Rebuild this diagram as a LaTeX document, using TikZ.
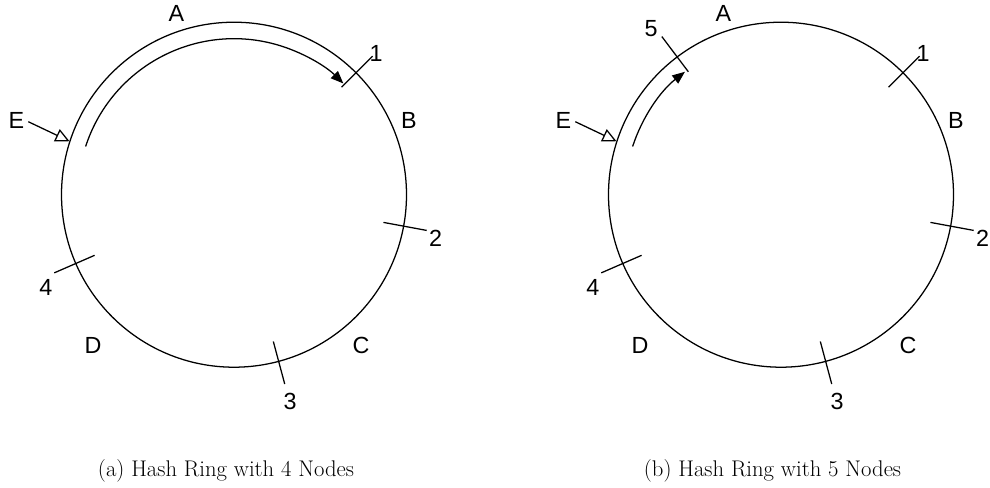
\documentclass[tikz,border=0pt]{standalone}
\usepackage{fontspec}
\newfontfamily\lblfont{Liberation Sans}
\usetikzlibrary{arrows.meta,calc}
\begin{document}
\begin{tikzpicture}[x=0.75pt,y=0.75pt,
  ring/.style={line width=0.95pt},
  tickline/.style={line width=0.95pt},
  lbl/.style={font=\lblfont\fontsize{17.5}{20}\selectfont, inner sep=0pt},
  captext/.style={font=\fontsize{17}{20}\selectfont, inner sep=0pt},
  entry/.style={line width=0.95pt, -{Triangle[open,length=10.5pt,width=10pt,line width=0.95pt]}},
  walk/.style={line width=0.95pt, -{Triangle[length=9.5pt,width=7.5pt]}}]
\useasboundingbox (0,0) rectangle (990,-487);

\foreach \p/\cx in {L/234, R/781} {
  \coordinate (\p-c) at (\cx,-194.7);
  \draw[ring] (\p-c) circle[radius=172.5];
  % ticks
  \foreach \t/\a in {1/45, 2/-10.5, 3/-75, 4/203.5} {
    \coordinate (\p-t\t i) at ($(\p-c)+(\a:152)$);
    \coordinate (\p-t\t o) at ($(\p-c)+(\a:196)$);
    \draw[tickline] (\p-t\t i) -- (\p-t\t o);
  }
  % labels
  \node[lbl] (\p-n1) at ($(\p-c)+(142,141.5)$) {1};
  \node[lbl] (\p-n2) at ($(\p-c)+(201.5,-43.8)$) {2};
  \node[lbl] (\p-n3) at ($(\p-c)+(56,-207.2)$) {3};
  \node[lbl] (\p-n4) at ($(\p-c)+(-188.2,-93)$) {4};
  \node[lbl] (\p-A) at ($(\p-c)+(-57.7,181.2)$) {A};
  \node[lbl] (\p-B) at ($(\p-c)+(175,74.5)$) {B};
  \node[lbl] (\p-C) at ($(\p-c)+(127,-150.5)$) {C};
  \node[lbl] (\p-D) at ($(\p-c)+(-141,-150.5)$) {D};
  \node[lbl] (\p-E) at ($(\p-c)+(-217.7,74.5)$) {E};
  % entry arrow of key E
  \coordinate (\p-es) at ($(\p-c)+(-205.7,73)$);
  \coordinate (\p-et) at ($(\p-c)+(162:173)$);
  \draw[entry] (\p-es) -- (\p-et);
}

% extra node 5 on the right ring
\coordinate (R-t5i) at ($(R-c)+(127:154)$);
\coordinate (R-t5o) at ($(R-c)+(127:198)$);
\draw[tickline] (R-t5i) -- (R-t5o);
\node[lbl] (R-n5) at ($(R-c)+(-129.8,166.2)$) {5};

% walks along the ring
\coordinate (L-ws) at ($(L-c)+(162:156)$);
\draw[walk] (L-ws) arc[start angle=162, end angle=45.5, radius=156];
\coordinate (R-ws) at ($(R-c)+(162:156)$);
\draw[walk] (R-ws) arc[start angle=162, end angle=128, radius=156];

% captions
\node[captext] (capL) at (226,-471) {(a) Hash Ring with 4 Nodes};
\node[captext] (capR) at (772.5,-471) {(b) Hash Ring with 5 Nodes};
\end{tikzpicture}
\end{document}
